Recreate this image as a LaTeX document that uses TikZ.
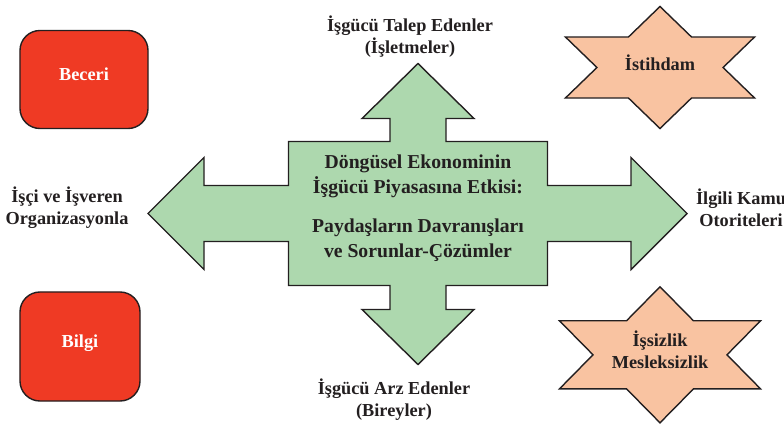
\documentclass[tikz,border=0pt]{standalone}
\usepackage{fontspec}
\setmainfont{Liberation Serif}
\usetikzlibrary{shapes.geometric}
\definecolor{crossgreen}{HTML}{ADD8AE}
\definecolor{boxred}{HTML}{EF3A24}
\definecolor{starpeach}{HTML}{F9C3A1}
\definecolor{inkgray}{HTML}{231F20}

\begin{document}
\begin{tikzpicture}[x=0.025cm, y=0.025cm,
  lbl/.style={align=center, font=\fontsize{13}{15.6}\selectfont\bfseries, text=inkgray},
  redbox/.style={draw=inkgray, line width=1pt, fill=boxred, rounded corners=0.5cm, text=white,
    text height=9pt, text depth=7pt, font=\fontsize{13}{15.6}\selectfont\bfseries},
  hexstar/.style={star, star points=6, star point ratio=1.732, draw=inkgray, line width=1pt, fill=starpeach, inner sep=0pt}]
\useasboundingbox (0,0) rectangle (784,424);

% the four-way arrow
\begin{scope}[shift={(418,210.5)}]
\draw[inkgray, line width=1pt, fill=crossgreen] (0,150) -- (56,95) -- (28,95) -- (28,72) -- (129.5,72) -- (129.5,28)
  -- (213,28) -- (213,56) -- (269,0) -- (213,-56) -- (213,-28) -- (129.5,-28) -- (129.5,-72)
  -- (28,-72) -- (28,-96) -- (56,-96) -- (0,-151) -- (-56,-96) -- (-28,-96) -- (-28,-72)
  -- (-129.5,-72) -- (-129.5,-28) -- (-214,-28) -- (-214,-56) -- (-270,0) -- (-214,56)
  -- (-214,28) -- (-129.5,28) -- (-129.5,72) -- (-28,72) -- (-28,95) -- (-56,95) -- cycle;
\end{scope}
\node[lbl, font=\fontsize{14}{17.8}\selectfont\bfseries] (centre) at (418,216)
  {Döngüsel Ekonominin\\İşgücü Piyasasına Etkisi:\\[10pt]Paydaşların Davranışları\\ve Sorunlar-Çözümler};

\node[lbl] (talep) at (410,387) {İşgücü Talep Edenler\\(İşletmeler)};
\node[lbl] (arz) at (394,24) {İşgücü Arz Edenler\\(Bireyler)};
\node[lbl] (orgs) at (67,216.5) {İşçi ve İşveren\\Organizasyonla};
\node[lbl] (kamu) at (741,216.5) {İlgili Kamu\\Otoriteleri};

% red boxes
\node[redbox, minimum width=3.2cm, minimum height=2.45cm] (beceri) at (84,344.5) {Beceri};
\node[redbox, minimum width=3cm, minimum height=2.725cm] (bilgi) at (80,77.5) {Bilgi};

% stars
\node[hexstar, minimum size=3.05cm, xscale=1.79] (istihdam) at (660,356.5) {};
\node[lbl, yshift=3.5pt] (istihdam-t) at (istihdam) {İstihdam};
\node[hexstar, minimum size=3.4cm, xscale=1.706] (issizlik) at (660,69.2) {};
\node[lbl, yshift=3.5pt] (issizlik-t) at (issizlik) {İşsizlik\\Mesleksizlik};
\end{tikzpicture}
\end{document}
